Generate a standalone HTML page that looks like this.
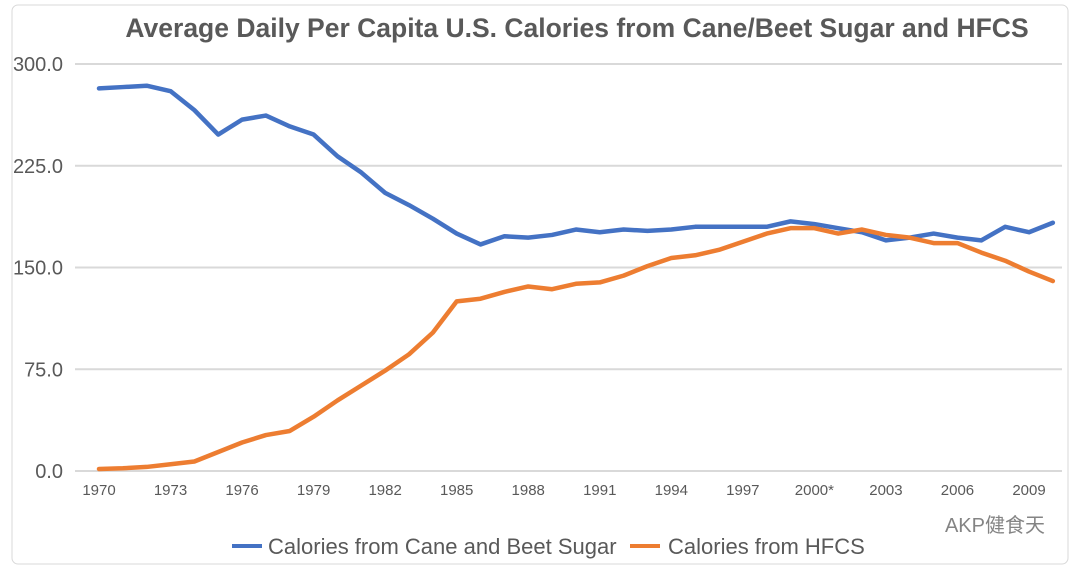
<!DOCTYPE html>
<html><head><meta charset="utf-8"><style>
body{margin:0;background:#fff;width:1080px;height:572px;overflow:hidden;font-family:"Liberation Sans","Noto Sans CJK SC",sans-serif}
</style></head><body>
<svg width="1080" height="572" xmlns="http://www.w3.org/2000/svg">
<rect x="12" y="5" width="1056" height="559" rx="6" fill="#fff" stroke="#d9d9d9"/>
<text x="577" y="37" text-anchor="middle" font-size="26.5" font-weight="bold" fill="#595959">Average Daily Per Capita U.S. Calories from Cane/Beet Sugar and HFCS</text>
<g id="grid"></g><g id="ylab"></g><g id="xlab"></g><g id="lines"></g>
<g>
<line x1="232" y1="546" x2="262" y2="546" stroke="#4472c4" stroke-width="4"/>
<text x="268" y="554" font-size="22" fill="#595959">Calories from Cane and Beet Sugar</text>
<line x1="630" y1="546" x2="660" y2="546" stroke="#ed7d31" stroke-width="4"/>
<text x="668" y="554" font-size="22" fill="#595959">Calories from HFCS</text>
</g>
<text x="1045" y="532" text-anchor="end" font-size="20" fill="#666" opacity="0.8">AKP健食天</text>
</svg>
<script>
const years=[];for(let y=1970;y<=2010;y++)years.push(y);
const sugar=[282,283,284,280,266,248,259,262,254,248,232,220,205,196,186,175,167,173,172,174,178,176,178,177,178,180,180,180,180,184,182,179,176,170,172,175,172,170,180,176,183];
const hfcs=[1.5,2,3,5,7,14,21,26.5,29.5,40,52,63,74,86,102,125,127,132,136,134,138,139,144,151,157,159,163,169,175,179,179,175,178,174,172,168,168,161,155,147,140];
const yTicks=[0,75,150,225,300];
const yTickLabels=["0.0","75.0","150.0","225.0","300.0"];
const xTickYears=[1970,1973,1976,1979,1982,1985,1988,1991,1994,1997,2000,2003,2006,2009];
const xTickLabels=["1970","1973","1976","1979","1982","1985","1988","1991","1994","1997","2000*","2003","2006","2009"];
const NS="http://www.w3.org/2000/svg";
const X=y=>99+(y-1970)*(1029-99)/39;
const Y=v=>471-v*(471-64)/300;
function mk(t,a,p){const e=document.createElementNS(NS,t);for(const k in a)e.setAttribute(k,a[k]);p.appendChild(e);return e;}
const grid=document.getElementById('grid'),yl=document.getElementById('ylab'),xl=document.getElementById('xlab'),ln=document.getElementById('lines');
yTicks.forEach((v,i)=>{
 const g=mk('line',{x1:75,x2:1062,y1:Y(v),y2:Y(v),stroke:'#d9d9d9','stroke-width':2},grid);
 
 
 const t=mk('text',{x:63,y:Y(v)+7,'text-anchor':'end','font-size':20,fill:'#595959'},yl);t.textContent=yTickLabels[i];
 
 
});
xTickYears.forEach((yr,i)=>{
 const t=mk('text',{x:X(yr),y:495,'text-anchor':'middle','font-size':15,fill:'#595959'},xl);t.textContent=xTickLabels[i];
 
 
});
function line(d,c,n){
 const p=mk('polyline',{points:d.map((v,i)=>X(years[i])+','+Y(v)).join(' '),fill:'none',stroke:c,'stroke-width':4.5,'stroke-linejoin':'round','stroke-linecap':'round'},ln);
 
 
}
line(sugar,'#4472c4','sugar-line');
line(hfcs,'#ed7d31','hfcs-line');
</script>
</body></html>
